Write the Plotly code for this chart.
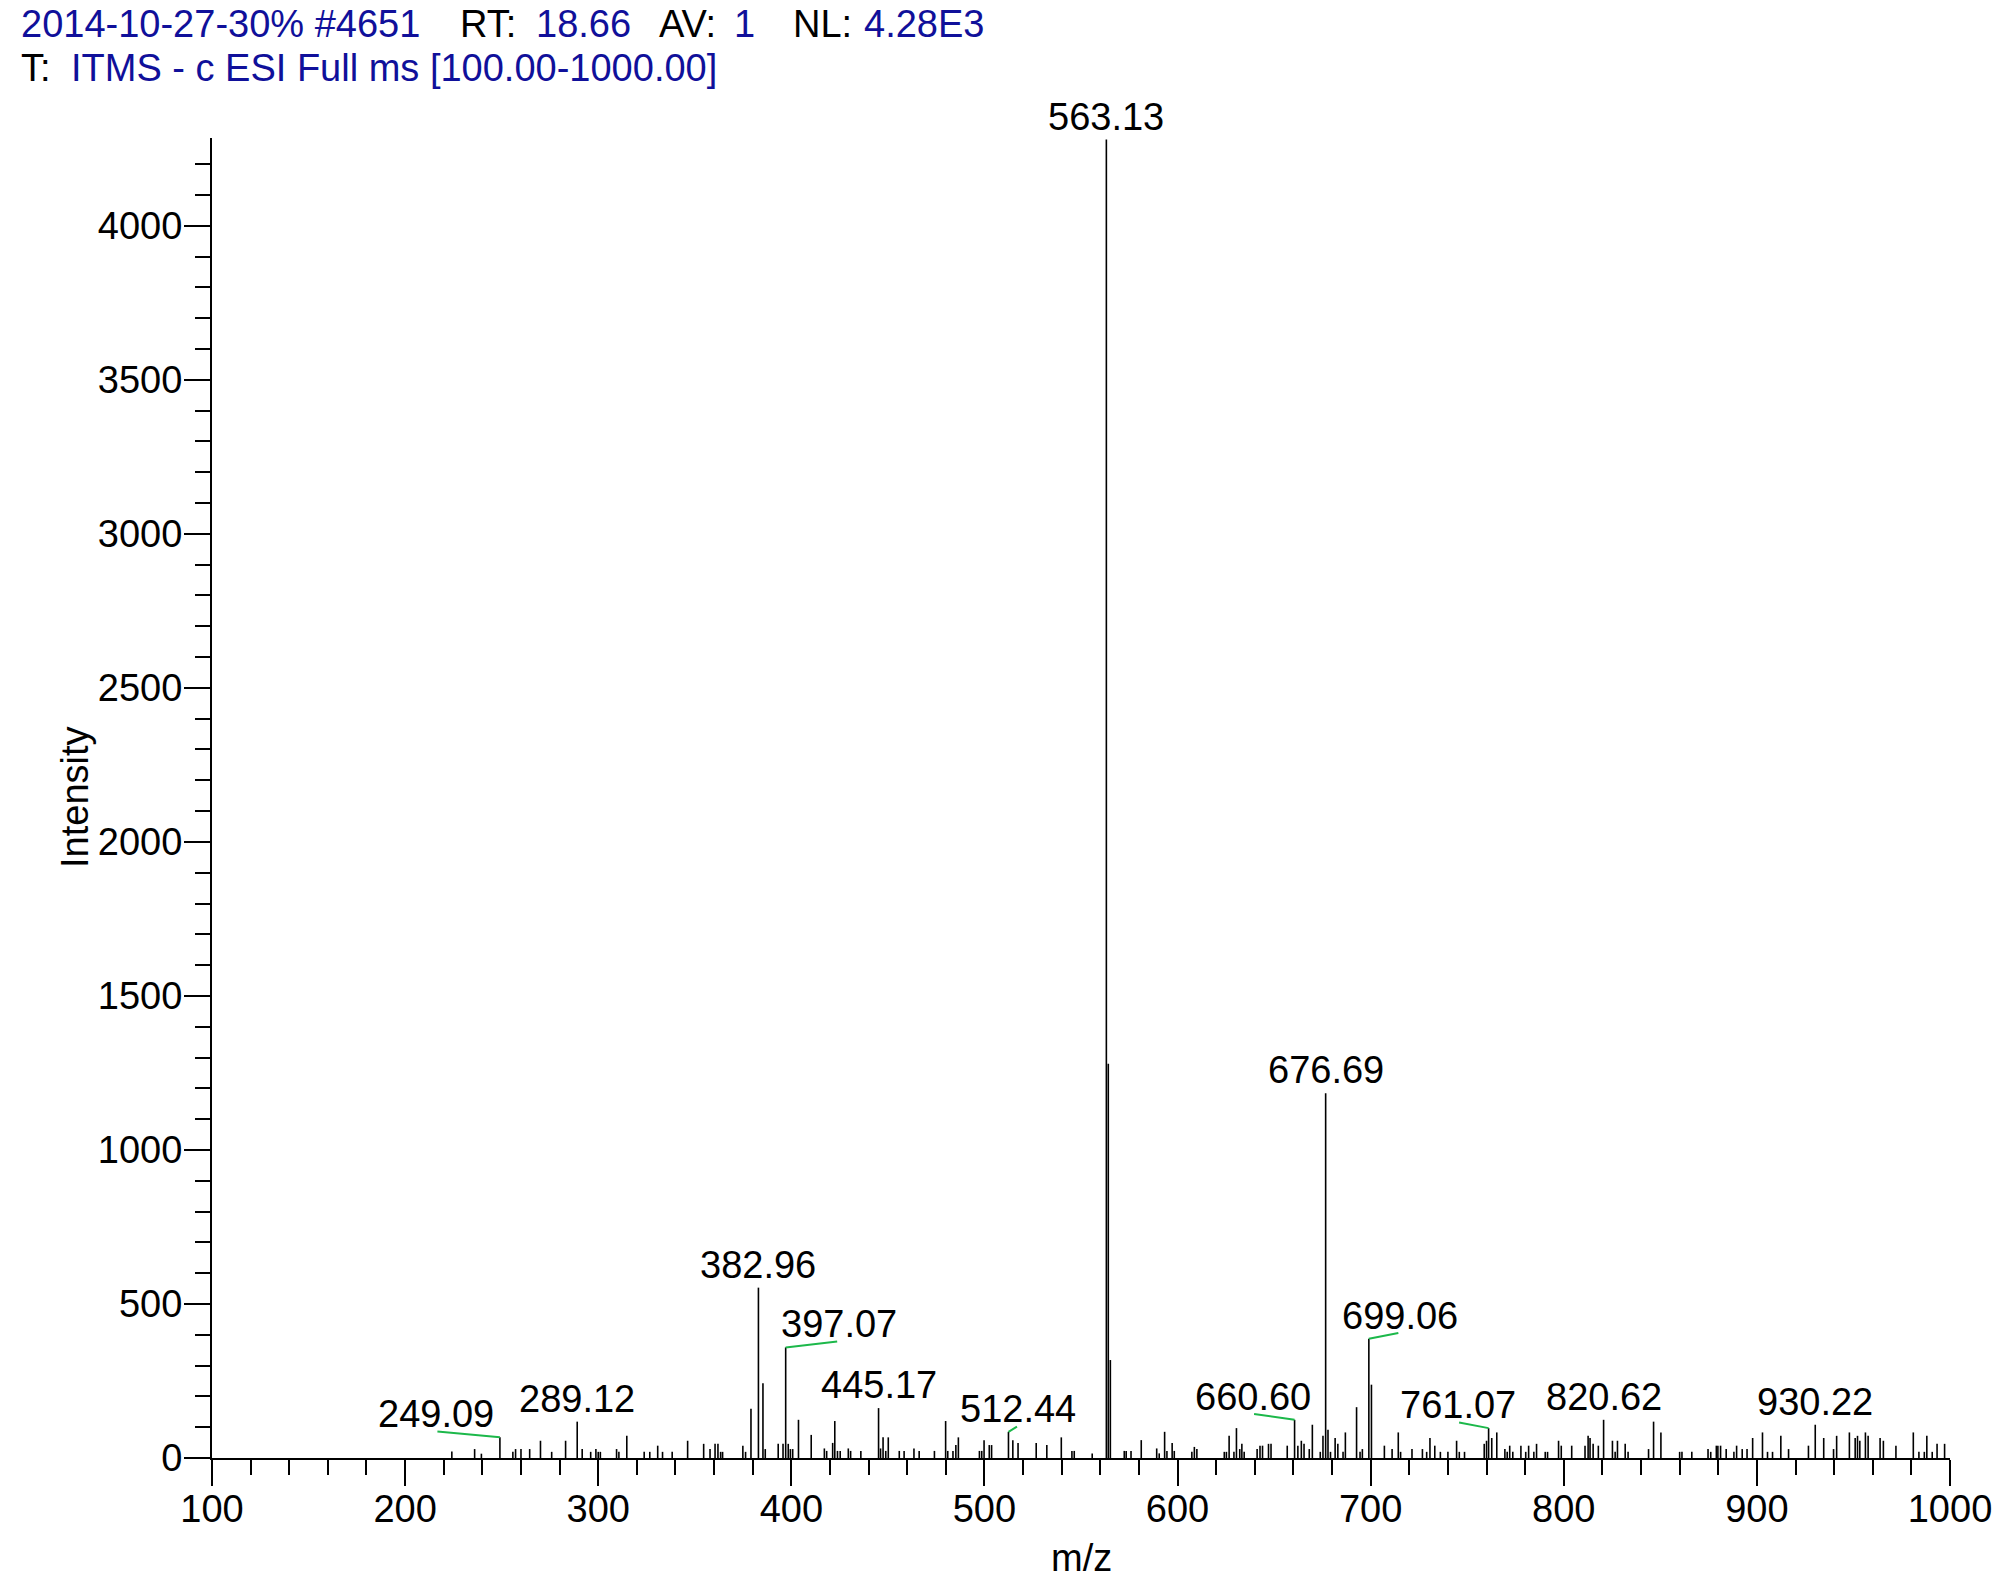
import plotly.graph_objects as go

# ---------------- data ----------------
mz = [224.2, 236.0, 239.5, 249.09, 255.8, 257.2, 260.0, 264.5, 270.1, 275.9,
      283.1, 289.12, 291.7, 296.1, 298.8, 300.0, 301.1, 309.5, 310.7, 314.8,
      323.8, 326.7, 330.8, 333.3, 338.3, 346.3, 354.6, 357.9, 360.5, 362.0,
      363.4, 364.4, 374.9, 376.3, 379.1, 382.96, 385.3, 386.5, 393.2, 395.7,
      397.07, 398.4, 399.5, 400.7, 403.7, 410.3,
      417.1, 418.3, 421.4, 422.5, 423.9, 425.3, 429.5, 430.7, 436.0, 445.17,
      446.2, 447.5, 448.9, 450.2, 455.9, 458.4, 463.5, 466.2, 474.1, 479.9,
      481.0, 483.7, 485.2, 486.5, 497.4, 498.6, 499.8, 502.5, 503.7, 512.44,
      514.7, 517.4, 526.8, 532.3, 539.8, 545.3, 546.5, 555.8, 563.13, 564.13,
      565.2, 572.4, 573.4, 575.9, 581.2, 589.2, 590.5, 593.3, 594.5, 597.2,
      598.3, 607.4, 608.7, 610.0,
      624.2, 625.3, 626.7, 629.2, 630.5, 632.2, 633.3, 634.5, 641.2, 642.7,
      644.0, 647.1, 648.4, 656.8, 660.60, 662.3, 664.1, 665.5, 668.2, 669.8,
      673.9, 675.3, 676.69, 677.9, 679.2, 681.6, 683.0, 685.7, 686.9, 692.7,
      694.5, 695.7, 699.06, 700.4, 707.1, 711.1, 714.3, 715.5, 721.4, 726.8,
      729.0, 730.7, 733.2, 736.1, 740.0, 744.5, 745.9, 748.6, 758.8, 760.0,
      761.07, 762.7, 765.3, 769.5, 770.7, 772.0, 773.6, 777.8, 780.3, 781.8,
      784.5, 785.9, 790.4, 791.6, 797.3, 798.7, 804.1,
      811.0, 812.6, 813.6, 815.2, 817.9, 820.62, 825.2, 826.6, 827.8, 831.8,
      833.3, 843.9, 846.5, 850.3, 860.0, 861.2, 866.3, 874.7, 876.1, 879.0,
      879.8, 881.2, 884.1, 888.1, 889.5, 892.4, 894.9, 897.8, 902.9, 905.5,
      908.1, 912.4, 916.4, 926.7, 930.22, 934.6, 939.7, 941.3, 947.9, 950.9,
      952.1, 953.3, 956.2, 957.6, 963.8, 965.5, 972.0, 981.0, 983.9, 986.7,
      988.0, 990.8, 993.3, 997.2]

intensity = [21, 29, 14, 67, 20, 29, 29, 29, 56, 20,
             56, 118, 29, 20, 29, 20, 20, 29, 20, 72,
             20, 20, 40, 20, 20, 56, 46, 29, 46, 46,
             20, 20, 40, 20, 160, 553, 243, 29, 46, 46,
             359, 46, 29, 29, 124, 75,
             31, 23, 49, 120, 23, 23, 31, 23, 23, 162,
             31, 67, 23, 67, 23, 23, 31, 23, 23, 120,
             23, 23, 42, 67, 23, 23, 58, 42, 42, 85,
             58, 49, 49, 42, 67, 23, 23, 15, 4280, 1280,
             318, 23, 23, 23, 58, 31, 15, 85, 23, 49,
             23, 20, 36, 29,
             20, 20, 72, 20, 97, 29, 46, 20, 29, 40,
             40, 46, 46, 40, 124, 40, 56, 46, 29, 108,
             20, 72, 1184, 92, 20, 65, 46, 20, 83, 165,
             20, 29, 387, 238, 40, 29, 83, 20, 29, 29,
             20, 65, 40, 20, 20, 56, 20, 20, 46, 56,
             97, 65, 83, 29, 20, 40, 20, 40, 20, 40,
             20, 46, 20, 20, 56, 40, 40,
             40, 72, 65, 46, 40, 124, 56, 20, 56, 46,
             20, 29, 118, 83, 20, 20, 20, 29, 20, 40,
             40, 40, 29, 20, 40, 29, 29, 65, 83, 20,
             20, 72, 29, 40, 108, 65, 29, 72, 83, 65,
             72, 56, 83, 72, 65, 56, 40, 83, 20, 20,
             72, 20, 46, 46]

# labelled peaks and horizontal label offsets (px)
label_mz = [249.09, 289.12, 382.96, 397.07, 445.17, 512.44, 563.13,
            660.60, 676.69, 699.06, 761.07, 820.62, 930.22]
label_dx = [-64, 0, 0, 53, 0, 10, 0, -42, 0, 31, -31, 0, 0]

x_ticks = [100, 200, 300, 400, 500, 600, 700, 800, 900, 1000]
y_ticks = [0, 500, 1000, 1500, 2000, 2500, 3000, 3500, 4000]

FONT = "Liberation Sans, Arial, sans-serif"
BLUE = "#10109a"
GREEN = "#1cb84a"
FS = 38

# ---------------- stems ----------------
xs, ys = [], []
for m, v in zip(mz, intensity):
    xs += [m, m, None]
    ys += [0, v, None]

fig = go.Figure()
fig.add_trace(go.Scatter(x=xs, y=ys, mode="lines",
                         line=dict(color="black", width=1.6),
                         hoverinfo="skip", showlegend=False))

peak_lookup = dict(zip(mz, intensity))
annotations = []
for m, dx in zip(label_mz, label_dx):
    v = peak_lookup[m]
    annotations.append(dict(x=m, y=v, xref="x", yref="y", text=f"{m:.2f}",
                            showarrow=False, xanchor="center", yanchor="middle",
                            xshift=dx, yshift=23,
                            font=dict(family=FONT, size=FS, color="black")))
    if dx != 0:
        annotations.append(dict(x=m, y=v, xref="x", yref="y", text="",
                                showarrow=True, arrowhead=0, arrowwidth=2,
                                arrowcolor=GREEN, ax=dx, ay=-6,
                                axref="pixel", ayref="pixel", standoff=0,
                                startstandoff=0))

W, H = 1999, 1592
ML, MR, MT, MB = 212, 49, 138, 134
pw, ph = W - ML - MR, H - MT - MB


def px2paper(px, py):
    return (px - ML) / pw, (H - MB - py) / ph


header = [("2014-10-27-30% #4651", 19, 24, BLUE), ("RT:", 458, 24, "black"),
          ("18.66", 534, 24, BLUE), ("AV:", 657, 24, "black"),
          ("1", 732, 24, BLUE), ("NL:", 791, 24, "black"),
          ("4.28E3", 862, 24, BLUE),
          ("T:", 19, 68, "black"), ("ITMS - c ESI Full ms [100.00-1000.00]", 69, 68, BLUE)]
for t, px, py, c in header:
    ax_, ay_ = px2paper(px, py)
    annotations.append(dict(x=ax_, y=ay_, xref="paper", yref="paper", text=t,
                            showarrow=False, xanchor="left", yanchor="middle",
                            font=dict(family=FONT, size=FS, color=c)))

ix, iy = px2paper(75, 797)
annotations.append(dict(x=ix, y=iy, xref="paper", yref="paper",
                        text="Intensity", textangle=-90, showarrow=False,
                        xanchor="center", yanchor="middle",
                        font=dict(family=FONT, size=FS, color="black")))
mx, my = px2paper(1081, 1558)
annotations.append(dict(x=mx, y=my, xref="paper", yref="paper", text="m/z",
                        showarrow=False, xanchor="center", yanchor="middle",
                        font=dict(family=FONT, size=FS, color="black")))

fig.update_layout(
    width=W, height=H,
    margin=dict(l=ML, r=MR, t=MT, b=MB, autoexpand=False),
    paper_bgcolor="white", plot_bgcolor="white",
    annotations=annotations,
    xaxis=dict(range=[100, 1000], tickvals=x_ticks, ticks="outside",
               ticklen=26, tickwidth=2, tickcolor="black",
               showline=True, linewidth=2, linecolor="black",
               showgrid=False, zeroline=False, ticklabelstandoff=-10,
               tickfont=dict(family=FONT, size=FS, color="black"),
               minor=dict(dtick=20, tick0=100, ticks="outside", ticklen=15,
                          tickwidth=2, tickcolor="black", showgrid=False)),
    yaxis=dict(range=[0, 4285], tickvals=y_ticks, ticks="outside",
               ticklen=26, tickwidth=2, tickcolor="black",
               showline=True, linewidth=2, linecolor="black",
               showgrid=False, zeroline=False, ticklabelstandoff=-6,
               tickfont=dict(family=FONT, size=FS, color="black"),
               minor=dict(dtick=100, tick0=0, ticks="outside", ticklen=15,
                          tickwidth=2, tickcolor="black", showgrid=False)),
)

# remove the browser's default 8px body margin so the figure fills the window
fig.write_html("out.html",
               config={"displayModeBar": False},
               post_script="document.body.style.margin='0';"
                           "document.body.style.overflow='hidden';")
